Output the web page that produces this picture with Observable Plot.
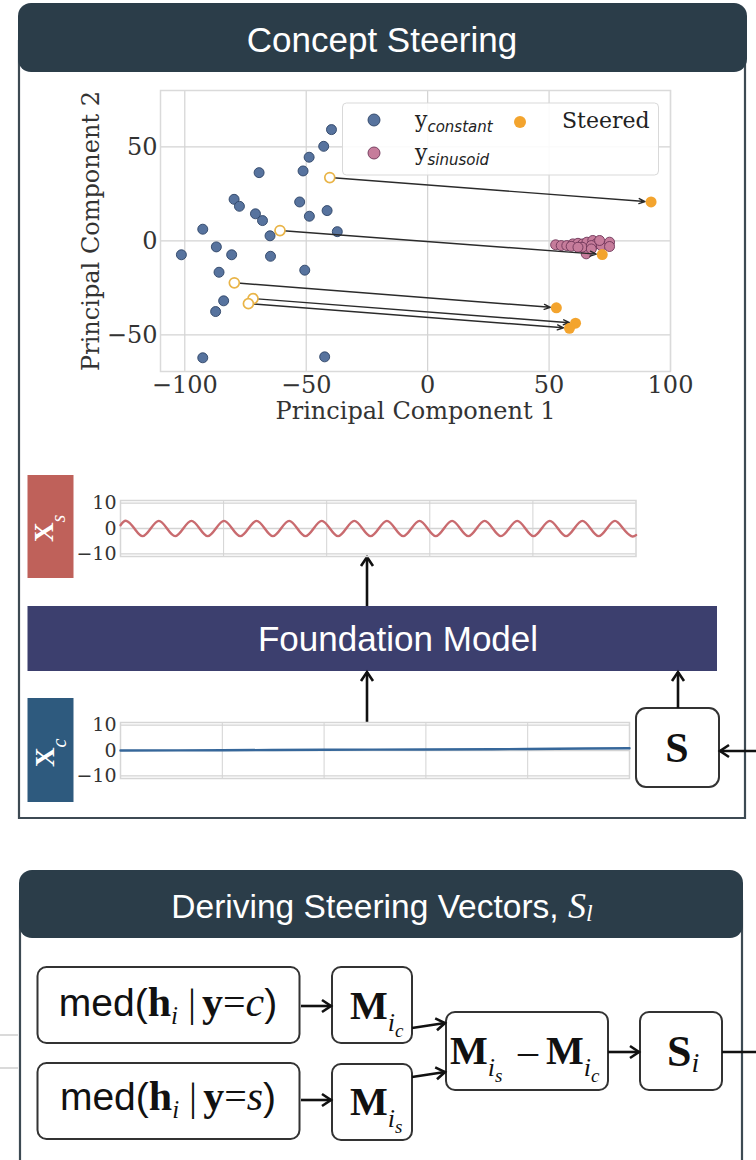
<!DOCTYPE html>
<html>
<head>
<meta charset="utf-8">
<script src="https://cdn.jsdelivr.net/npm/d3@7"></script>
<script src="https://cdn.jsdelivr.net/npm/@observablehq/plot@0.6"></script>
<style>
  html, body { margin: 0; padding: 0; background: #fff; }
  #page { position: relative; width: 756px; height: 1160px; overflow: hidden; background: #fff; }
  #page > * { position: absolute; }
  #deco { left: 0; top: 0; z-index: 0; }
  #scatter { left: 60px; top: 80px; z-index: 1; }
  #seriesS { left: 70px; top: 490px; z-index: 1; }
  #seriesC { left: 70px; top: 712px; z-index: 1; }
  #legend { left: 0; top: 0; z-index: 2; }
</style>
</head>
<body>
<div id="page">
  <svg id="deco"></svg>
  <div id="scatter"></div>
  <div id="seriesS"></div>
  <div id="seriesC"></div>
  <svg id="legend"></svg>
</div>
<script>
// ---- PCA of hidden states: constant-signal inputs
const constantPC1 = [-39.6, -42.8, -48.8, -51.3, -69.4, -79.7, -77.5, -52.7, -41.4, -48.7, -70.9, -68.0, -37.2,
                     -92.6, -64.9, -87.0, -101.4, -80.7, -64.7, -85.9, -50.6, -84.0, -87.3, -92.6, -42.4];
const constantPC2 = [59.2, 50.3, 44.5, 37.2, 36.3, 22.1, 18.4, 20.7, 16.1, 13.1, 14.4, 10.8, 4.9,
                     6.2, 2.7, -3.2, -7.4, -7.4, -8.2, -16.7, -15.6, -31.9, -37.6, -62.2, -61.7];

// ---- sinusoid inputs (tight cluster)
const sinusoidPC1 = [52.7, 55.0, 57.3, 59.8, 61.9, 63.9, 65.6, 68.0, 69.4, 71.5, 74.9, 74.9, 65.3, 63.6, 59.1, 67.4, 61.9, 70.8, 67.4];
const sinusoidPC2 = [-2.1, -2.5, -2.5, -1.6, -1.3, -1.6, -0.7, 0.2, -1.6, -2.5, -0.7, -3.0, -6.9, -3.4, -2.9, -2.5, -3.4, 0.2, -4.3];

// ---- constant inputs before steering, and their steered projections
const sourcePC1 = [-40.3, -60.8, -79.6, -71.9, -73.8];
const sourcePC2 = [33.7, 5.5, -22.3, -30.7, -33.4];
const steeredPC1 = [92.0, 71.9, 53.0, 60.9, 58.4];
const steeredPC2 = [20.7, -7.3, -35.6, -43.8, -46.5];

// ---- axis ticks
const pc1Ticks = [-100, -50, 0, 50, 100];
const pc2Ticks = [-50, 0, 50];
const seriesYTicks = [-10, 0, 10];
const seriesXGrid = [100, 200, 300, 400];

// ---- steered output X_s (peaks, zero crossings and troughs)
const sinT = [0, 5.6, 13.5, 21.4, 29.3, 37.2, 45.1, 53.0, 60.9, 68.8, 76.7, 84.6, 92.5,
              100.4, 108.3, 116.2, 124.1, 132.0, 139.9, 147.8, 155.7, 163.6, 171.5, 179.4, 187.3,
              195.2, 203.1, 211.0, 218.9, 226.8, 234.7, 242.6, 250.5, 258.4, 266.3, 274.2, 282.1,
              290.0, 297.9, 305.8, 313.7, 321.6, 329.5, 337.4, 345.3, 353.2, 361.1, 369.0, 376.9,
              384.8, 392.7, 400.6, 408.5, 416.4, 424.3, 432.2, 440.1, 448.0, 455.9, 463.8, 471.7,
              479.6, 487.5, 495.4, 500];
const sinV = [1.3, 3, 0, -3, 0, 3, 0, -3, 0, 3, 0, -3, 0,
              3, 0, -3, 0, 3, 0, -3, 0, 3, 0, -3, 0,
              3, 0, -3, 0, 3, 0, -3, 0, 3, 0, -3, 0,
              3, 0, -3, 0, 3, 0, -3, 0, 3, 0, -3, 0,
              3, 0, -3, 0, 3, 0, -3, 0, 3, 0, -3, 0,
              3, 0, -3, -2.6];

// ---- constant input X_c
const constT = [0, 100, 200, 300, 400, 500];
const constV = [0.0, 0.1, 0.3, 0.4, 0.6, 0.9];

const SERIF = "'Liberation Serif', 'Times New Roman', serif";
const SANS = "'Liberation Sans', Arial, Helvetica, sans-serif";
const PLOTSERIF = "'DejaVu Serif', serif";

const rows = (a, b, ka, kb) => a.map((d, i) => ({[ka]: d, [kb]: b[i]}));
const constantPts = rows(constantPC1, constantPC2, "pc1", "pc2");
const sinusoidPts = rows(sinusoidPC1, sinusoidPC2, "pc1", "pc2");
const sourcePts = rows(sourcePC1, sourcePC2, "pc1", "pc2");
const steeredPts = rows(steeredPC1, steeredPC2, "pc1", "pc2");
const moves = sourcePC1.map((d, i) => ({x1: d, y1: sourcePC2[i], x2: steeredPC1[i], y2: steeredPC2[i]}));

const gridStyle = {stroke: "#d3d3d3", strokeOpacity: 1, strokeWidth: 1.2};

// ---- PCA scatter
const scatter = Plot.plot({
  width: 640, height: 355,
  marginLeft: 100, marginRight: 30, marginTop: 10, marginBottom: 64,
  x: {domain: [-110, 100]},
  y: {domain: [-69.5, 80]},
  style: {fontFamily: PLOTSERIF, fontSize: "24px", color: "#333", background: "transparent", overflow: "visible"},
  marks: [
    Plot.gridX(pc1Ticks, gridStyle),
    Plot.gridY(pc2Ticks, gridStyle),
    Plot.frame({stroke: "#dadada", strokeWidth: 1.5}),
    Plot.axisX(pc1Ticks, {tickSize: 0, tickPadding: 4, tickFormat: d3.format("d"),
      label: "Principal Component 1", labelAnchor: "center", labelOffset: 47, labelArrow: "none"}),
    Plot.axisY(pc2Ticks, {tickSize: 0, tickPadding: 3, tickFormat: d3.format("d"),
      label: "Principal Component 2", labelAnchor: "center", labelOffset: 79, labelArrow: "none"}),
    Plot.dot(constantPts, {x: "pc1", y: "pc2", r: 5, fill: "#57739e", stroke: "#2e4466", strokeWidth: 0.9}),
    Plot.dot(sinusoidPts, {x: "pc1", y: "pc2", r: 5, fill: "#c67c9b", stroke: "#6e3658", strokeWidth: 0.9}),
    Plot.arrow(moves, {x1: "x1", y1: "y1", x2: "x2", y2: "y2", stroke: "#2b2b2b", strokeWidth: 1.4,
      headLength: 7, headAngle: 45, insetEnd: 6}),
    Plot.dot(sourcePts, {x: "pc1", y: "pc2", r: 5, fill: "#fff", stroke: "#e9b447", strokeWidth: 1.7}),
    Plot.dot(steeredPts, {x: "pc1", y: "pc2", r: 5.5, fill: "#f3a42e"})
  ]
});
document.getElementById("scatter").append(scatter);

// ---- time-series strips
function strip(t, v, color, marginRight) {
  return Plot.plot({
    width: 580, height: 80,
    marginLeft: 50, marginRight, marginTop: 10, marginBottom: 14,
    x: {domain: [0, 500], axis: null},
    y: {domain: [-11, 11], axis: null},
    style: {fontFamily: PLOTSERIF, fontSize: "19px", color: "#333", background: "transparent", overflow: "visible"},
    marks: [
      Plot.gridX(seriesXGrid, {stroke: "#d3d3d3", strokeOpacity: 1, strokeWidth: 1}),
      Plot.gridY(seriesYTicks, {stroke: "#d3d3d3", strokeOpacity: 1, strokeWidth: 1.3}),
      Plot.frame({stroke: "#d6d6d6", strokeWidth: 1.5}),
      Plot.axisY(seriesYTicks, {tickSize: 0, tickPadding: 4, tickFormat: d3.format("d"), label: null}),
      Plot.line(rows(t, v, "t", "v"), {x: "t", y: "v", stroke: color, strokeWidth: 2.4, curve: "natural"})
    ]
  });
}
document.getElementById("seriesS").append(strip(sinT, sinV, "#c96b6f", 14.5));
document.getElementById("seriesC").append(strip(constT, constV, "#36679a", 21));

// ---- diagram: panels, blocks and connectors
const deco = d3.select("#deco").attr("width", 756).attr("height", 1160);

function richText(sel, x, y, anchor, parts, fill = "#111") {
  const t = sel.append("text").attr("x", x).attr("y", y).attr("text-anchor", anchor).attr("fill", fill);
  for (const p of parts) {
    const s = t.append("tspan").text(p.t)
      .attr("font-family", p.f || SERIF).attr("font-size", p.s)
      .attr("font-weight", p.b ? "bold" : "normal").attr("font-style", p.i ? "italic" : "normal");
    if (p.dy) s.attr("dy", p.dy);
    if (p.dx) s.attr("dx", p.dx);
  }
  return t;
}
function box(x, y, w, h, r = 9) {
  deco.append("rect").attr("x", x).attr("y", y).attr("width", w).attr("height", h).attr("rx", r)
    .attr("fill", "#fff").attr("stroke", "#333").attr("stroke-width", 2);
}
function connector(x1, y1, x2, y2, head = true) {
  const g = deco.append("g").attr("stroke", "#111").attr("stroke-width", 2.6).attr("fill", "none")
    .attr("stroke-linecap", "butt").attr("stroke-linejoin", "miter");
  g.append("line").attr("x1", x1).attr("y1", y1).attr("x2", x2).attr("y2", y2);
  if (head) {
    const dx = x2 - x1, dy = y2 - y1, len = Math.hypot(dx, dy), ux = dx / len, uy = dy / len;
    const L = 9, Wd = 6;
    g.append("path").attr("d",
      `M${x2 - L * ux - Wd * uy},${y2 - L * uy + Wd * ux}L${x2},${y2}L${x2 - L * ux + Wd * uy},${y2 - L * uy - Wd * ux}`);
  }
}

// Concept Steering panel
deco.append("path").attr("d", "M19,40V818H745V40").attr("fill", "none").attr("stroke", "#3d4a53").attr("stroke-width", 2.2);
deco.append("rect").attr("x", 18).attr("y", 3).attr("width", 729).attr("height", 69).attr("rx", 13).attr("fill", "#2b3d49");
richText(deco, 382, 52, "middle", [{t: "Concept Steering", f: SANS, s: 35}], "#fff");

// variable tags
deco.append("rect").attr("x", 27.5).attr("y", 475).attr("width", 46).attr("height", 103).attr("fill", "#bf615a");
richText(deco.append("g").attr("transform", "translate(53,542) rotate(-90)"), 0, 0, "start",
  [{t: "X", b: 1, s: 27}, {t: "s", i: 1, s: 20, dy: 12}], "#fff");
deco.append("rect").attr("x", 27.5).attr("y", 698).attr("width", 46).attr("height", 104).attr("fill", "#2e5a7e");
richText(deco.append("g").attr("transform", "translate(54,767) rotate(-90)"), 0, 0, "start",
  [{t: "X", b: 1, s: 27}, {t: "c", i: 1, s: 20, dy: 12}], "#fff");

// model block
deco.append("rect").attr("x", 27.5).attr("y", 606).attr("width", 689.5).attr("height", 65).attr("fill", "#3c3f6e");
richText(deco, 398, 651, "middle", [{t: "Foundation Model", f: SANS, s: 35}], "#fff");

// steering vector block
box(636, 708, 83, 79, 10);
richText(deco, 677, 762, "middle", [{t: "S", b: 1, s: 42}]);

connector(367, 722, 367, 672);
connector(367, 606, 367, 557);
connector(678, 708, 678, 672);
connector(756, 751, 720, 751);

// Deriving Steering Vectors panel
deco.append("path").attr("d", "M20,900V1160M742,900V1160").attr("fill", "none").attr("stroke", "#3d4a53").attr("stroke-width", 2.2);
deco.append("rect").attr("x", 19).attr("y", 870).attr("width", 724).attr("height", 68).attr("rx", 13).attr("fill", "#2b3d49");
richText(deco, 382, 918, "middle", [
  {t: "Deriving Steering Vectors, ", f: SANS, s: 33.5},
  {t: "S", i: 1, s: 36},
  {t: "l", i: 1, s: 24, dy: 3}
], "#fff");

deco.append("path").attr("d", "M0,1035H18M0,1068H18").attr("stroke", "#b5b5b5").attr("stroke-width", 1);

box(37.5, 967, 262, 76);
box(37.5, 1063, 262, 76);
box(332, 967, 80, 76);
box(332, 1064, 80, 76);
box(446, 1012, 162, 78);
box(640, 1012, 82, 78);

function medText(y, label) {
  richText(deco, 168, y, "middle", [
    {t: "med(", f: SANS, s: 39}, {t: "h", b: 1, s: 42}, {t: "i", i: 1, s: 25, dy: 8},
    {t: " |", s: 40, dy: -8}, {t: "y", b: 1, s: 42, dx: 6}, {t: "=", s: 40}, {t: label, i: 1, s: 42}, {t: ")", f: SANS, s: 39}
  ]);
}
medText(1016, "c");
medText(1110, "s");

function mSub(x, y, sub) {
  richText(deco, x, y, "start", [{t: "M", b: 1, s: 40}, {t: "i", i: 1, s: 26, dy: 12}, {t: sub, i: 1, s: 19, dy: 6}]);
}
mSub(350, 1019, "c");
mSub(350, 1115, "s");
mSub(450, 1064, "s");
richText(deco, 528, 1064, "middle", [{t: "\u2013", s: 40}]);
mSub(546, 1064, "c");
richText(deco, 667, 1066, "start", [{t: "S", b: 1, s: 44}, {t: "i", i: 1, s: 28, dy: 6}]);

connector(301, 1006, 331, 1006);
connector(301, 1100, 331, 1100);
connector(412, 1028, 445, 1023);
connector(412, 1077, 445, 1072);
connector(608, 1052, 639, 1052);
connector(722, 1052, 756, 1052, false);

// ---- scatter legend
const lg = d3.select("#legend").attr("width", 756).attr("height", 200);
lg.append("rect").attr("x", 342.5).attr("y", 103).attr("width", 316).attr("height", 72).attr("rx", 4)
  .attr("fill", "#fff").attr("fill-opacity", 0.88).attr("stroke", "#d9d9d9").attr("stroke-width", 1);
lg.append("circle").attr("cx", 374).attr("cy", 120).attr("r", 6).attr("fill", "#57739e").attr("stroke", "#2e4466").attr("stroke-width", 0.9);
lg.append("circle").attr("cx", 374).attr("cy", 153).attr("r", 6).attr("fill", "#c67c9b").attr("stroke", "#6e3658").attr("stroke-width", 0.9);
lg.append("circle").attr("cx", 520).attr("cy", 122).attr("r", 6).attr("fill", "#f3a42e");
const DSANS = "'DejaVu Sans', sans-serif";
richText(lg, 415, 127, "start", [{t: "y", f: PLOTSERIF, s: 22}, {t: "constant", f: DSANS, i: 1, s: 15, dy: 5}], "#222");
richText(lg, 415, 160, "start", [{t: "y", f: PLOTSERIF, s: 22}, {t: "sinusoid", f: DSANS, i: 1, s: 15, dy: 5}], "#222");
richText(lg, 562, 128, "start", [{t: "Steered", f: PLOTSERIF, s: 22}], "#222");
</script>
</body>
</html>
